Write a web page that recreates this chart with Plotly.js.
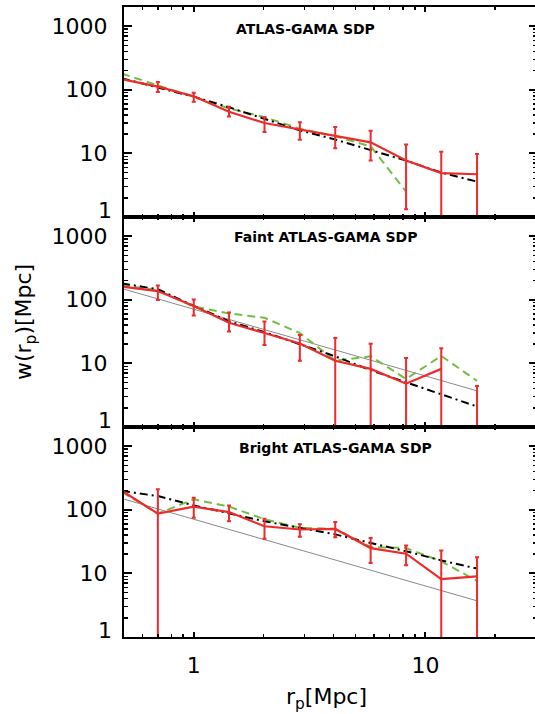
<!DOCTYPE html>
<html>
<head>
<meta charset="utf-8">
<script src="https://cdn.plot.ly/plotly-3.0.1.min.js"></script>
<style>
html, body { margin: 0; padding: 0; overflow: hidden; background: #fff; }
#chart { width: 539px; height: 714px; }
</style>
</head>
<body>
<div id="chart"></div>
<script>
// projected separation bins r_p [Mpc]
const rp = [0.49, 0.70, 1.0, 1.42, 2.02, 2.87, 4.08, 5.8, 8.25, 11.7, 16.7];

// Panel 1: ATLAS-GAMA SDP
const allRed    = [146, 112, 79, 45, 30, 23.7, 18.6, 14.9, 7.75, 4.9, 4.7];
const allErrHi  = [null, 133, 90, 54, 37, 30.9, 26, 22.6, 13.8, 10.6, 9.8];
const allErrLo  = [null, 92, 65, 38, 21.7, 16.4, 12, 7.7, 1.32, 0, 0];
const allGreen  = [179, 117, 76, 51, 37, 24.5, 18.6, 12.9, 2.5, null, null];
const allBlack  = [151, 108, 78, 53, 35, 23, 16.5, 11.4, 7.7, 5.0, 3.6];

// Panel 2: Faint ATLAS-GAMA SDP
const faintRed   = [161, 137, 80, 43.5, 30, 20.5, 11, 8.2, 4.8, 8.2, null];
const faintErrHi = [null, 168, 101, 62.8, 45.5, 28, 25, 20.3, 12.2, 17.3, 4.4];
const faintErrLo = [null, 99, 56.6, 31.6, 19.5, 11, 0, 0, 0, 0, 0];
const faintGreen = [169, 141, 78, 61, 52, 30, 11, 12.9, 5.7, 13.1, 5.3];
const faintBlack = [181, 146, 80, 46, 31, 20, 12.9, 7.8, 5.0, 3.3, 2.1];

// Panel 3: Bright ATLAS-GAMA SDP
const brightRed   = [198, 87, 112, 92, 55, 49, 50, 25, 20.4, 8.1, 9.0];
const brightErrHi = [null, 210, 155, 117, 72, 59, 64, 36, 27.4, 22.8, 17.9];
const brightErrLo = [null, 0, 75, 66, 35, 37.6, 37, 14.6, 13.4, 0, 0];
const brightGreen = [190, 87, 146, 112, 71, 52, 50, 26, 25, 15.5, 7.6];
const brightBlack = [198, 164, 117, 87, 66, 52, 41, 30, 22.3, 16, 11.9];

// power-law reference (grey) in faint and bright panels
const powerLawX = [0.49, 16.7];
const powerLawY = [150, 3.7];

const panelTitles = ['ATLAS-GAMA SDP', 'Faint ATLAS-GAMA SDP', 'Bright ATLAS-GAMA SDP'];
const yTickVals = [1, 10, 100, 1000];
const xTickVals = [1, 10];

const RED = '#ee2a2a', GREEN = '#74bd45', GREY = '#8a8a8a';
const FONT = 'DejaVu Sans, sans-serif';

const panels = [
  {red: allRed, hi: allErrHi, lo: allErrLo, green: allGreen, black: allBlack, grey: false},
  {red: faintRed, hi: faintErrHi, lo: faintErrLo, green: faintGreen, black: faintBlack, grey: true},
  {red: brightRed, hi: brightErrHi, lo: brightErrLo, green: brightGreen, black: brightBlack, grey: true}
];

const traces = [];
panels.forEach((p, i) => {
  const xa = i === 0 ? 'x' : 'x' + (i + 1);
  const ya = i === 0 ? 'y' : 'y' + (i + 1);
  if (p.grey) {
    traces.push({x: powerLawX, y: powerLawY, xaxis: xa, yaxis: ya, mode: 'lines',
      line: {color: GREY, width: 1}, hoverinfo: 'skip'});
  }
  traces.push({x: rp, y: p.green, xaxis: xa, yaxis: ya, mode: 'lines',
    line: {color: GREEN, width: 2, dash: '8px,5px'}, connectgaps: false, hoverinfo: 'skip'});
  traces.push({x: rp, y: p.black, xaxis: xa, yaxis: ya, mode: 'lines',
    line: {color: '#000', width: 2, dash: '8px,4px,2px,4px'}, hoverinfo: 'skip'});
  traces.push({x: rp, y: p.red, xaxis: xa, yaxis: ya, mode: 'lines',
    line: {color: RED, width: 2.2}, connectgaps: false, hoverinfo: 'skip'});
  // error bars: anchored at the upper end, extending down to the lower end
  const ex = [], ey = [], eminus = [];
  rp.forEach((xv, k) => {
    if (p.hi[k] !== null) { ex.push(xv); ey.push(p.hi[k]); eminus.push(p.hi[k] - p.lo[k]); }
  });
  traces.push({x: ex, y: ey, xaxis: xa, yaxis: ya, mode: 'markers',
    marker: {size: 1, color: RED, opacity: 0},
    error_y: {type: 'data', symmetric: false, array: ex.map(() => 0), arrayminus: eminus,
      color: RED, thickness: 2, width: 2},
    hoverinfo: 'skip'});
});

// labelled decades 10..1000 as axis ticks; "1" is placed as its own text (slightly raised)
const yLabelled = yTickVals.slice(1);
function yAxis(domain) {
  return {
    type: 'log', range: [0, Math.log10(2000)], domain: domain,
    tickvals: yLabelled, ticktext: yLabelled.map(String),
    ticks: 'inside', ticklen: 8, tickwidth: 2, tickcolor: '#000',
    minor: {ticks: 'inside', ticklen: 4, tickwidth: 1.5, tickcolor: '#000', dtick: 'D1', showgrid: false},
    showline: true, linewidth: 2, linecolor: '#000', mirror: 'allticks',
    showgrid: false, zeroline: false,
    tickfont: {family: FONT, size: 22, color: '#000'}, ticklabelstandoff: 10
  };
}
function xAxis(anchor, labels) {
  return {
    type: 'log', range: [Math.log10(0.5), Math.log10(30.3)], anchor: anchor,
    tickvals: xTickVals, ticktext: xTickVals.map(String),
    ticks: 'inside', ticklen: 5, tickwidth: 2, tickcolor: '#000',
    minor: {ticks: 'inside', ticklen: 3, tickwidth: 1.5, tickcolor: '#000', dtick: 'D1', showgrid: false},
    showline: true, linewidth: 2, linecolor: '#000', mirror: 'allticks',
    showgrid: false, zeroline: false, showticklabels: labels,
    tickfont: {family: FONT, size: 22, color: '#000'}, ticklabelstandoff: 8
  };
}

const titleX = [0.439, 0.488, 0.511];
const titleY = [0.965, 0.635, 0.30];
const annotations = panelTitles.map((t, i) => ({
  text: t, xref: 'paper', yref: 'paper', x: titleX[i], y: titleY[i],
  xanchor: 'center', yanchor: 'middle', showarrow: false,
  font: {family: FONT, size: 14, color: '#000', weight: 'bold'}
}));
['y', 'y2', 'y3'].forEach(yr => {
  annotations.push({
    text: String(yTickVals[0]), xref: 'paper', yref: yr, x: 0, y: 0,
    xanchor: 'right', yanchor: 'middle', xshift: -10, yshift: 7, showarrow: false,
    font: {family: FONT, size: 22, color: '#000'}
  });
});
annotations.push({
  text: 'w(r<sub>p</sub>)[Mpc]', xref: 'paper', yref: 'paper', x: 0, y: 0.5,
  xanchor: 'center', yanchor: 'middle', xshift: -99, textangle: -90, showarrow: false,
  font: {family: FONT, size: 22, color: '#000'}
});
annotations.push({
  text: 'r<sub>p</sub>[Mpc]', xref: 'paper', yref: 'paper', x: 0.49, y: 0,
  xanchor: 'center', yanchor: 'middle', yshift: -61, showarrow: false,
  font: {family: FONT, size: 22, color: '#000'}
});

const layout = {
  width: 539, height: 714,
  margin: {l: 124, r: 2, t: 7, b: 77},
  paper_bgcolor: '#fff', plot_bgcolor: '#fff',
  showlegend: false,
  xaxis: xAxis('y', false),
  xaxis2: xAxis('y2', false),
  xaxis3: xAxis('y3', true),
  yaxis: yAxis([2/3, 1]),
  yaxis2: yAxis([1/3, 2/3]),
  yaxis3: yAxis([0, 1/3]),
  annotations: annotations
};

Plotly.newPlot('chart', traces, layout, {staticPlot: true, displayModeBar: false});
</script>
</body>
</html>
